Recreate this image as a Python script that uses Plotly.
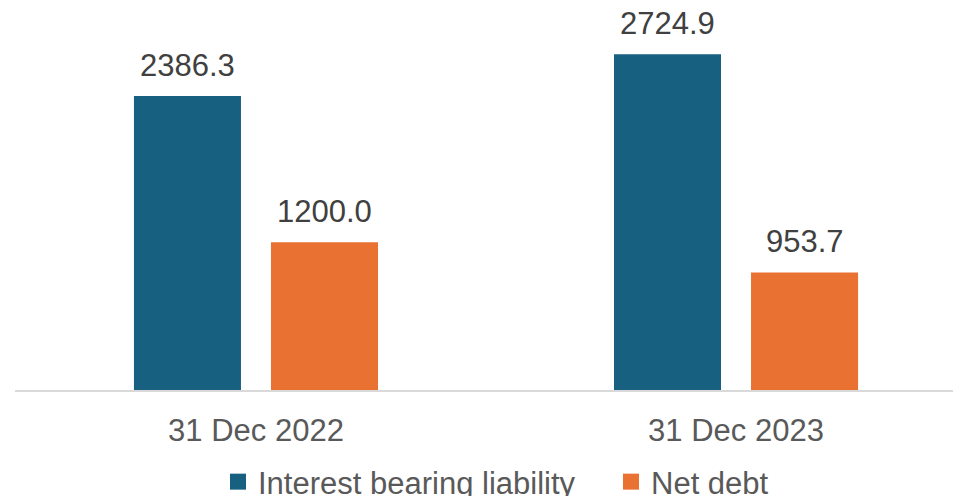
import plotly.graph_objects as go

# Données
categories = ["31 Dec 2022", "31 Dec 2023"]
series_names = ["Interest bearing liability", "Net debt"]
liability = [2386.3, 2724.9]
net_debt = [1200.0, 953.7]

COLORS = {
    "bleu": "#17607F",
    "orange": "#E97132",
    "texte": "#404040",
    "axe": "#595959",
    "ligne": "#D9D9D9",
}
FONT = "Arial, Liberation Sans, sans-serif"

fig = go.Figure()

for name, values, color in [
    (series_names[0], liability, COLORS["bleu"]),
    (series_names[1], net_debt, COLORS["orange"]),
]:
    fig.add_trace(go.Bar(
        x=categories,
        y=values,
        name=name,
        marker=dict(color=color, line=dict(width=0)),
        showlegend=False,
        hoverinfo="skip",
    ))
    # trace fantôme pour la légende (carré)
    fig.add_trace(go.Scatter(
        x=[None], y=[None],
        mode="markers",
        name=name,
        marker=dict(symbol="square", size=16, color=color),
        showlegend=True,
    ))

# Étiquettes de valeur au-dessus des barres
for values, shift in [(liability, -68.5), (net_debt, 68.5)]:
    for cat, v in zip(categories, values):
        fig.add_annotation(
            x=cat, y=v, text=f"{v:.1f}",
            xref="x", yref="y",
            showarrow=False, yanchor="bottom",
            xshift=shift, yshift=11,
            font=dict(size=31, color=COLORS["texte"], family=FONT),
        )

fig.update_layout(
    width=953, height=496,
    paper_bgcolor="white",
    plot_bgcolor="white",
    font=dict(family=FONT, size=31, color=COLORS["axe"]),
    margin=dict(l=15, r=0, t=0, b=106, autoexpand=False),
    barmode="group",
    bargap=0.429,
    bargroupgap=0.219,
    xaxis=dict(
        type="category",
        range=[-0.502, 1.452],
        showline=True, linecolor=COLORS["ligne"], linewidth=1.5,
        showgrid=False, ticks="",
        ticklabelstandoff=12,
        tickfont=dict(size=31, color=COLORS["axe"]),
    ),
    yaxis=dict(
        range=[0, 3165],
        visible=False,
        showgrid=False, zeroline=False,
    ),
    legend=dict(
        orientation="h",
        xref="container", yref="container",
        x=218 / 953, xanchor="left",
        y=(496 - 482) / 496, yanchor="middle",
        entrywidth=348, entrywidthmode="pixels",
        font=dict(size=31, color=COLORS["axe"]),
        itemclick=False,
    ),
)

fig.write_html(
    "out.html",
    config={"displayModeBar": False},
    post_script="document.body.style.margin='0';",
)
